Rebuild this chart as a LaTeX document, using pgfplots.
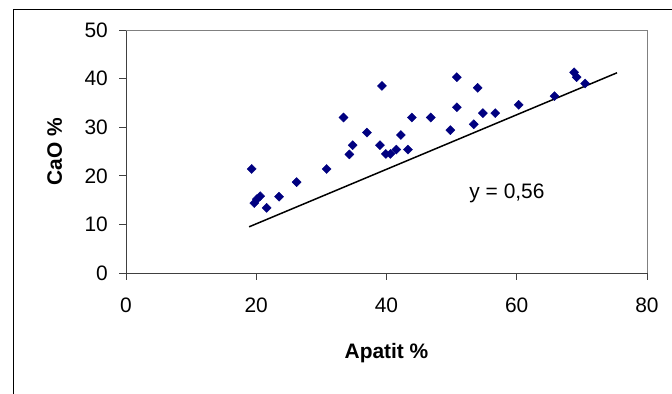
\documentclass[border=0pt]{standalone}
\usepackage{fontspec}
\setmainfont{Liberation Sans}
\usepackage{pgfplots}
\pgfplotsset{compat=1.18}
\definecolor{navyblue}{HTML}{000080}
\definecolor{axisdark}{HTML}{404040}
\definecolor{boxgray}{HTML}{808080}
\begin{document}
\begin{tikzpicture}
\path[use as bounding box] (0,0) rectangle (672bp,394bp);
\draw[black, line width=1bp] (13bp,0) -- (13bp,384.5bp) -- (672bp,384.5bp);
\begin{axis}[
  at={(126bp,121bp)}, anchor=south west,
  scale only axis, width=521bp, height=243bp,
  xmin=0, xmax=80, ymin=0, ymax=50,
  xtick={0,20,40,60,80}, ytick={0,10,20,30,40,50},
  axis lines=left, axis line style={-, axisdark, line width=1bp},
  tick align=outside, major tick length=7bp,
  tick style={axisdark, line width=1bp},
  /pgf/number format/assume math mode=true,
  tick label style={font=\fontsize{21}{25}\selectfont, inner sep=0pt},
  yticklabel style={anchor=east, xshift=-11bp},
  xticklabel style={anchor=north, yshift=-18bp},
  xlabel={\textbf{Apatit \%}}, ylabel={\textbf{CaO \%}},
  every axis x label/.style={at={(axis description cs:0.5,-0.35)}, anchor=base, font=\fontsize{21}{25}\selectfont},
  every axis y label/.style={at={(axis description cs:-0.137,0.5)}, anchor=center, rotate=90, font=\fontsize{21}{25}\selectfont},
  clip=false,
]
\draw[boxgray, line width=1bp] (rel axis cs:0,1) -- (rel axis cs:1,1) -- (rel axis cs:1,0);
\addplot[only marks, mark=square*, mark size=3.2bp, mark options={rotate=45, fill=navyblue, draw=navyblue}] coordinates {
(19.3,21.4) (19.7,14.4) (20.1,15.2) (20.6,15.8) (21.6,13.4) (23.5,15.7)
(26.2,18.7) (30.8,21.4) (33.4,32.0) (34.3,24.4) (34.8,26.3) (37.0,28.9)
(39.3,38.5) (39.0,26.3) (39.9,24.5) (40.6,24.5) (41.5,25.4) (42.2,28.4)
(43.3,25.4) (43.9,32.0) (46.8,32.0) (49.8,29.4) (50.8,40.3) (50.8,34.1)
(53.4,30.6) (54.0,38.1) (54.8,32.9) (56.7,32.9) (60.3,34.6) (65.8,36.4)
(68.8,41.3) (69.2,40.3) (70.5,39.0)
};
\addplot[black, line width=1.5bp, mark=none] coordinates {(18.9,9.5) (75.4,41.2)};
\node[font=\fontsize{21}{25}\selectfont, anchor=center] at (axis cs:58.5,16.4) {y = 0,56};
\end{axis}
\end{tikzpicture}
\end{document}
